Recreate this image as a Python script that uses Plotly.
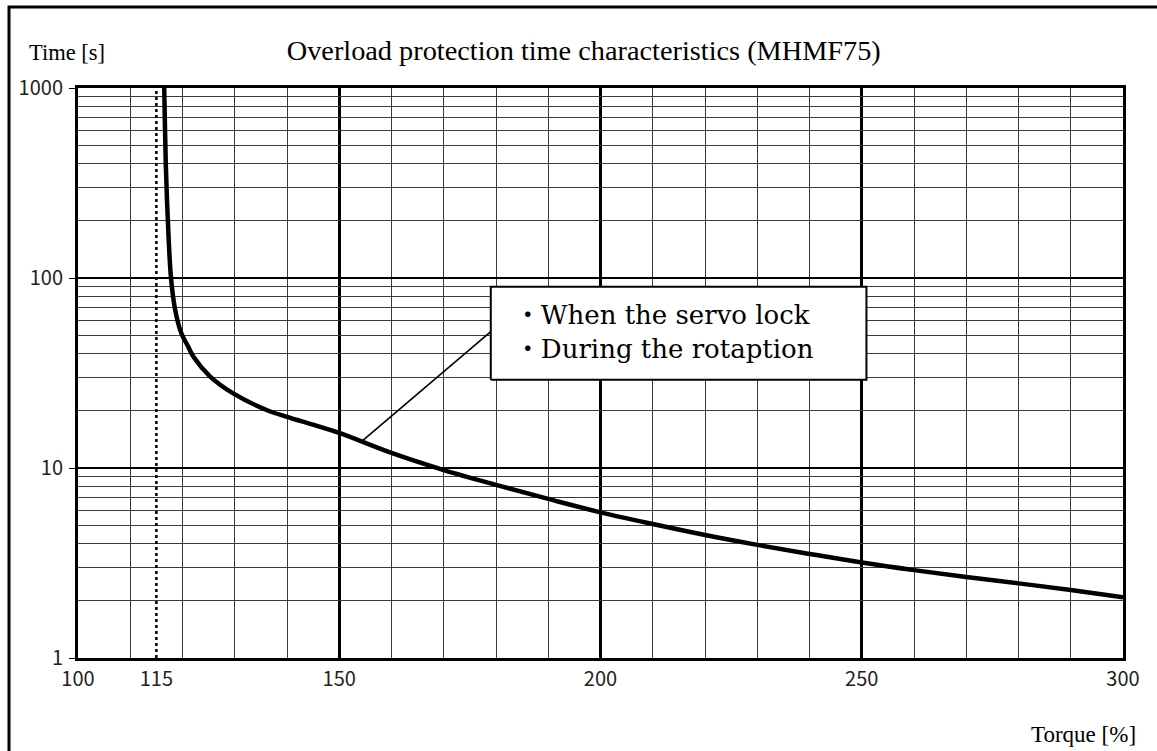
import math
import plotly.graph_objects as go

# Overload protection curve: torque [%] vs. trip time [s]
torque = [116.4, 116.5, 116.8, 117.2, 117.8, 118.6, 119.8, 121.0, 122.1, 125.3,
          129.7, 136.1, 140.0, 145.0, 150.0, 160.0, 170.0, 180.0, 190.0,
          200.0, 210.0, 220.0, 230.0, 240.0, 250.0, 260.0, 270.0, 280.0, 290.0, 300.0]
trip_time = [1200, 1000, 400, 200, 100, 68, 51, 44, 38.5, 30.3,
             24.7, 20.2, 18.6, 16.9, 15.3, 12.0, 9.75, 8.15, 6.88,
             5.84, 5.07, 4.44, 3.94, 3.53, 3.18, 2.90, 2.67, 2.47, 2.28, 2.09]

# Rated threshold marker
threshold_torque = 115

# Axis ticks
x_tick_vals = [100, 115, 150, 200, 250, 300]
x_tick_text = ["100", "115", "150", "200", "250", "300"]
x_major_grid = [150, 200, 250]
y_tick_vals = [1, 10, 100, 1000]
y_tick_text = ["1", "10", "100", "1000"]
y_minor_vals = [m * d for d in (1, 10, 100) for m in range(2, 10)]

legend_lines = ["・When the servo lock", "・During the rotaption"]

# Callout layout (data coordinates)
box_x = (179.0, 250.9)
box_y = (29.1, 90.0)
leader_from = (154.3, 13.8)
leader_to = (179.0, 52.2)
text_x = 183.6
text_y = [62.0, 40.8]

SERIF = "Liberation Serif, Times New Roman, serif"
TICK_FONT = dict(family="Liberation Sans Narrow, Arial Narrow, Noto Sans CJK JP, sans-serif",
                 size=20, color="#222222")
MINOR_GRID = "#3a3a3a"

fig = go.Figure()

# dotted threshold line (on overlay x axis that carries the tick labels)
fig.add_trace(go.Scatter(
    x=[threshold_torque, threshold_torque], y=[1, 1000], xaxis="x2",
    mode="lines", line=dict(color="black", width=2.5, dash="dot"),
    hoverinfo="skip", showlegend=False, cliponaxis=False))

# leader line to the callout (on overlay y axis that carries the minor grid)
fig.add_trace(go.Scatter(
    x=[leader_from[0], leader_to[0]], y=[leader_from[1], leader_to[1]], yaxis="y2",
    mode="lines", line=dict(color="black", width=1.6),
    hoverinfo="skip", showlegend=False))

# main curve
fig.add_trace(go.Scatter(
    x=torque, y=trip_time, mode="lines",
    line=dict(color="black", width=4.5, shape="spline", smoothing=1.0),
    showlegend=False))

# callout box
fig.add_trace(go.Scatter(
    x=[box_x[0], box_x[1], box_x[1], box_x[0], box_x[0]],
    y=[box_y[0], box_y[0], box_y[1], box_y[1], box_y[0]],
    mode="lines", fill="toself", fillcolor="white",
    line=dict(color="black", width=2), hoverinfo="skip", showlegend=False))

fig.add_trace(go.Scatter(
    x=[text_x] * len(legend_lines), y=text_y, mode="text",
    text=legend_lines, textposition="middle right",
    textfont=dict(family="DejaVu Serif, Noto Sans CJK JP, serif", size=26, color="black"),
    hoverinfo="skip", showlegend=False))

axis_common = dict(showline=True, linecolor="black", linewidth=3, mirror=True)

fig.update_layout(
    width=1157, height=751,
    margin=dict(l=78, r=34, t=88, b=93),
    paper_bgcolor="white", plot_bgcolor="white",
    title=dict(text="Overload protection time characteristics (MHMF75)",
               x=0.484, xref="paper", xanchor="center",
               y=1 - 50 / 751, yanchor="middle",
               font=dict(family=SERIF, size=28.3, color="black")),
    xaxis=dict(range=[100, 300], tickvals=x_major_grid, showticklabels=False,
               ticks="", showgrid=True, gridcolor="black", gridwidth=2.5,
               minor=dict(dtick=10, tick0=100, showgrid=True,
                          gridcolor=MINOR_GRID, gridwidth=1.3, ticks=""),
               zeroline=False, **axis_common),
    xaxis2=dict(range=[100, 300], overlaying="x", side="bottom", anchor="y",
                tickvals=x_tick_vals, ticktext=x_tick_text, ticks="",
                showgrid=False, zeroline=False, showline=False,
                tickfont=TICK_FONT, ticklabelstandoff=7),
    yaxis=dict(type="log", range=[0, 3], tickvals=y_tick_vals, ticktext=y_tick_text,
               ticks="outside", ticklen=6, tickwidth=1, tickcolor="black",
               showgrid=True, gridcolor="black", gridwidth=1.5,
               tickfont=TICK_FONT, ticklabelstandoff=2,
               zeroline=False, **axis_common),
    yaxis2=dict(type="log", range=[0, 3], overlaying="y", side="left", anchor="x",
                tickvals=y_minor_vals, showticklabels=False, ticks="",
                showgrid=True, gridcolor=MINOR_GRID, gridwidth=1.3,
                zeroline=False, showline=False),
    annotations=[
        dict(text="Time [s]", xref="paper", yref="paper",
             x=(27 - 78) / 1045, y=1 + (88 - 52) / 570,
             xanchor="left", yanchor="middle", showarrow=False,
             font=dict(family=SERIF, size=22.5, color="black")),
        dict(text="Torque [%]", xref="paper", yref="paper",
             x=(1138 - 78) / 1045, y=-(734 - 658) / 570,
             xanchor="right", yanchor="middle", showarrow=False,
             font=dict(family=SERIF, size=23, color="black")),
    ],
    shapes=[
        # outer frame of the figure
        dict(type="rect", xref="paper", yref="paper",
             x0=(9 - 78) / 1045, x1=1.2, y0=-0.4, y1=1 + (88 - 7) / 570,
             line=dict(color="black", width=3), fillcolor="rgba(0,0,0,0)"),
    ],
)

fig.write_html("out.html")
